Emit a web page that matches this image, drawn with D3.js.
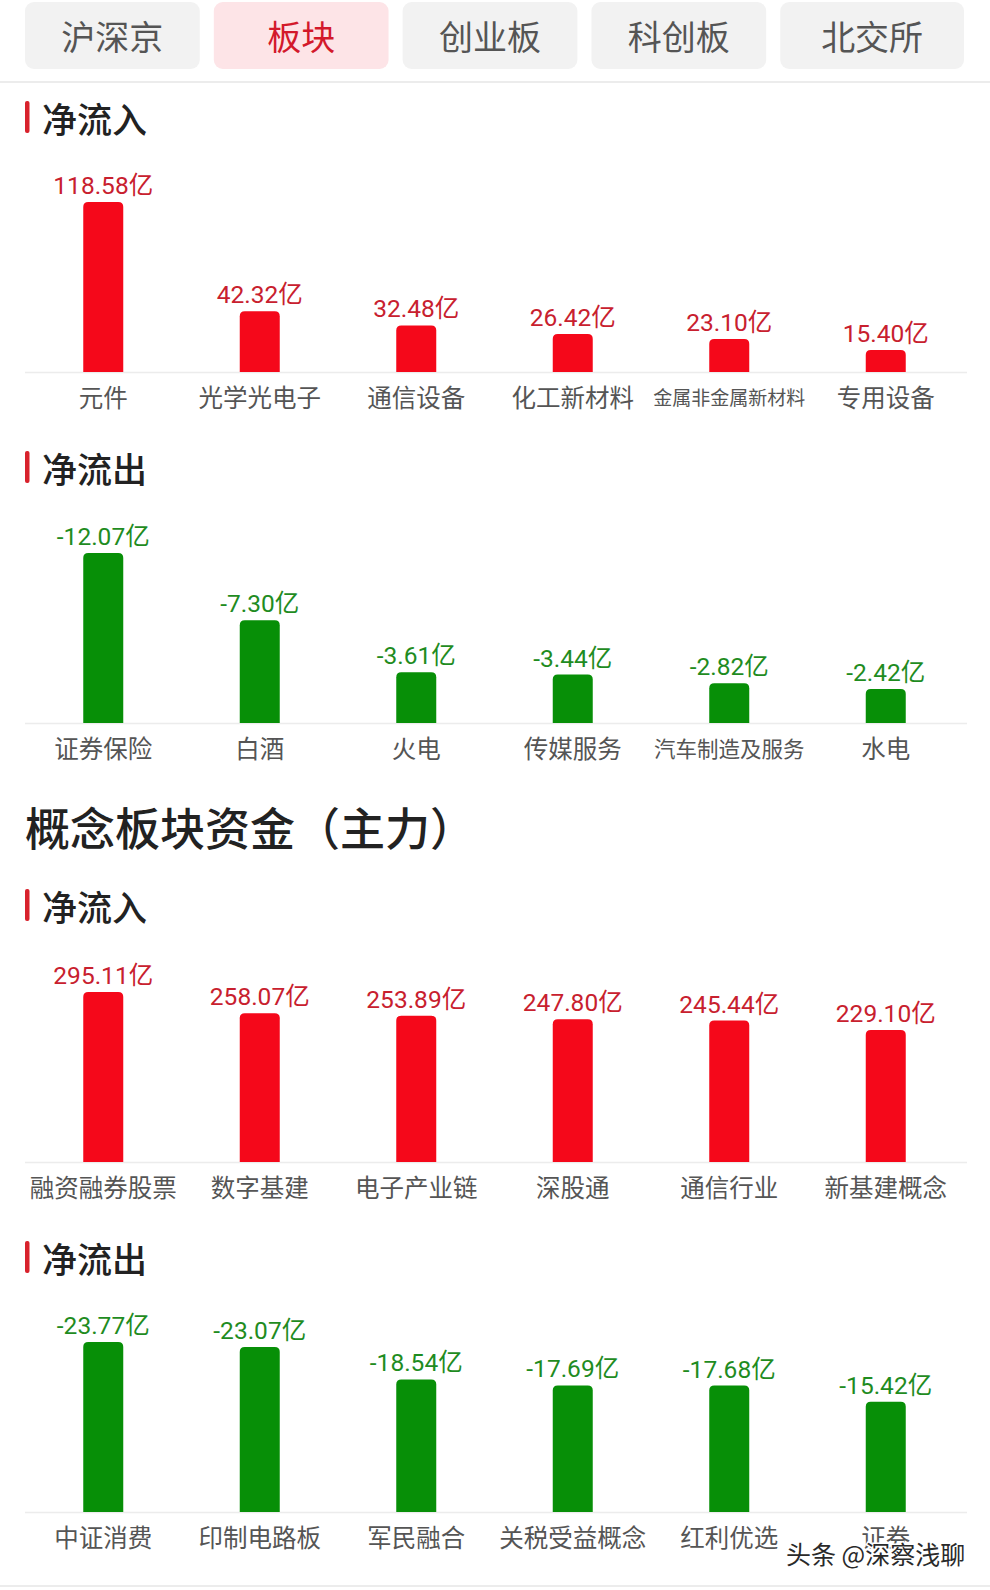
<!DOCTYPE html>
<html>
<head>
<meta charset="utf-8">
<script src="https://cdn.jsdelivr.net/npm/d3@7"></script>
<style>
  html, body { margin: 0; padding: 0; background: #fff; }
  svg { display: block; }
</style>
</head>
<body>
<div id="chart"></div>
<script>
// ---------- data ----------
const tabs = ["沪深京", "板块", "创业板", "科创板", "北交所"];
const activeTab = "板块";

const sectorInCats = ["元件", "光学光电子", "通信设备", "化工新材料", "金属非金属新材料", "专用设备"];
const sectorInVals = [118.58, 42.32, 32.48, 26.42, 23.10, 15.40];

const sectorOutCats = ["证券保险", "白酒", "火电", "传媒服务", "汽车制造及服务", "水电"];
const sectorOutVals = [-12.07, -7.30, -3.61, -3.44, -2.82, -2.42];

const conceptInCats = ["融资融券股票", "数字基建", "电子产业链", "深股通", "通信行业", "新基建概念"];
const conceptInVals = [295.11, 258.07, 253.89, 247.80, 245.44, 229.10];

const conceptOutCats = ["中证消费", "印制电路板", "军民融合", "关税受益概念", "红利优选", "证券"];
const conceptOutVals = [-23.77, -23.07, -18.54, -17.69, -17.68, -15.42];

const headingIn = "净流入";
const headingOut = "净流出";
const conceptTitle = "概念板块资金（主力）";
const watermark = "头条 @深察浅聊";

// ---------- drawing ----------
const W = 990, H = 1590;
const CJK = "'Noto Sans CJK SC', 'Noto Sans', sans-serif";
const NUM = "Roboto, 'Noto Sans CJK SC', sans-serif";

const svg = d3.select("#chart").append("svg")
  .attr("width", W).attr("height", H);
svg.append("rect").attr("width", W).attr("height", H).attr("fill", "#fff");

// tabs
const tabX = d3.scaleBand().domain(tabs).range([25, 955]).paddingInner(0.0745).paddingOuter(0);
const lastTab = tabs[tabs.length - 1];
const tabW = d => d === lastTab ? 964 - tabX(d) : tabX.bandwidth();
const tabG = svg.append("g");
tabG.selectAll("rect").data(tabs).join("rect")
  .attr("x", d => tabX(d)).attr("y", 2)
  .attr("width", d => tabW(d)).attr("height", 67)
  .attr("rx", 9)
  .attr("fill", d => d === activeTab ? "#fde4e7" : "#f2f2f2");
tabG.selectAll("text").data(tabs).join("text")
  .attr("x", d => tabX(d) + tabW(d) / 2).attr("y", 35)
  .attr("text-anchor", "middle").attr("dominant-baseline", "central")
  .attr("font-family", CJK).attr("font-size", 34)
  .attr("fill", d => d === activeTab ? "#d3192b" : "#555")
  .text(d => d);
svg.append("line").attr("x1", 0).attr("x2", W).attr("y1", 82).attr("y2", 82)
  .attr("stroke", "#e6e6e6").attr("stroke-width", 1.5);

function heading(text, cy) {
  svg.append("rect").attr("x", 25).attr("y", cy - 16).attr("width", 4.5).attr("height", 32)
    .attr("rx", 2).attr("fill", "#d8222c");
  svg.append("text").attr("x", 42).attr("y", cy)
    .attr("dominant-baseline", "central")
    .attr("font-family", CJK).attr("font-size", 35).attr("font-weight", 500)
    .attr("fill", "#222").text(text);
}

function topRoundedBar(x, y, w, h, r) {
  r = Math.min(r, h, w / 2);
  return `M${x},${y + h}V${y + r}Q${x},${y} ${x + r},${y}H${x + w - r}Q${x + w},${y} ${x + w},${y + r}V${y + h}Z`;
}

function barSection(cats, vals, baseline, isIn, smallLabels) {
  const data = cats.map((c, i) => ({ c, v: vals[i] }));
  const x = d3.scaleBand().domain(cats).range([25, 964]);
  const maxAbs = d3.max(data, d => Math.abs(d.v));
  const y = d3.scaleLinear().domain([0, maxAbs]).range([baseline, baseline - 170]);
  const barW = 40;
  const barColor = isIn ? "#f5081a" : "#078f07";
  const labColor = isIn ? "#c8202e" : "#1f8c1f";
  const g = svg.append("g");

  g.append("line").attr("x1", 25).attr("x2", 967).attr("y1", baseline + 0.5).attr("y2", baseline + 0.5)
    .attr("stroke", "#ececec").attr("stroke-width", 1.5);

  g.selectAll("path.bar").data(data).join("path").attr("class", "bar")
    .attr("d", d => {
      const cx = x(d.c) + x.bandwidth() / 2;
      const top = y(Math.abs(d.v));
      return topRoundedBar(cx - barW / 2, top, barW, baseline - top, 5);
    })
    .attr("fill", barColor);

  g.selectAll("text.val").data(data).join("text").attr("class", "val")
    .attr("x", d => x(d.c) + x.bandwidth() / 2)
    .attr("y", d => y(Math.abs(d.v)) - 8)
    .attr("text-anchor", "middle")
    .attr("font-family", NUM).attr("font-size", 24.5)
    .attr("fill", labColor)
    .text(d => d3.format(".2f")(d.v).replace("−", "-") + "亿");

  g.selectAll("text.cat").data(data).join("text").attr("class", "cat")
    .attr("x", d => x(d.c) + x.bandwidth() / 2)
    .attr("y", baseline + 24)
    .attr("text-anchor", "middle").attr("dominant-baseline", "central")
    .attr("font-family", CJK)
    .attr("font-size", d => (smallLabels && smallLabels[d.c]) || 24.5)
    .attr("fill", "#555")
    .text(d => d.c);
}

heading(headingIn, 117);
barSection(sectorInCats, sectorInVals, 372, true, { "金属非金属新材料": 19 });

heading(headingOut, 467);
barSection(sectorOutCats, sectorOutVals, 723, false, { "汽车制造及服务": 21.5 });

svg.append("text").attr("x", 25).attr("y", 826)
  .attr("dominant-baseline", "central")
  .attr("font-family", CJK).attr("font-size", 45).attr("font-weight", 500)
  .attr("fill", "#222").text(conceptTitle);

heading(headingIn, 905);
barSection(conceptInCats, conceptInVals, 1162, true);

heading(headingOut, 1257);
barSection(conceptOutCats, conceptOutVals, 1512, false);

svg.append("line").attr("x1", 0).attr("x2", W).attr("y1", 1586).attr("y2", 1586)
  .attr("stroke", "#ececec").attr("stroke-width", 2);

svg.append("text").attr("x", 786).attr("y", 1553)
  .attr("dominant-baseline", "central")
  .attr("font-family", CJK).attr("font-size", 25)
  .attr("fill", "#2a2a2a")
  .attr("stroke", "#fff").attr("stroke-width", 3).attr("paint-order", "stroke")
  .text(watermark);
</script>
</body>
</html>
